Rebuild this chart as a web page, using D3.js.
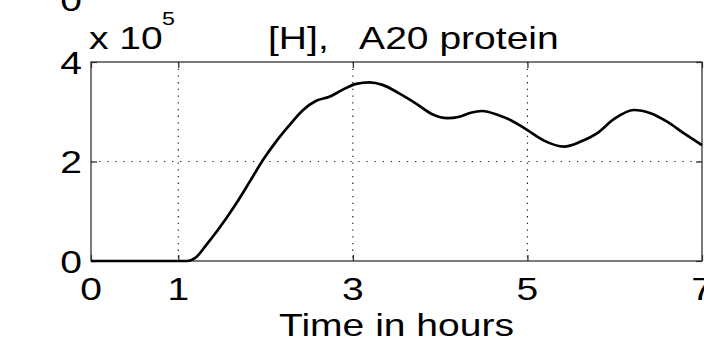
<!DOCTYPE html>
<html>
<head>
<meta charset="utf-8">
<script src="https://cdn.jsdelivr.net/npm/d3@7"></script>
<style>
  html, body { margin: 0; padding: 0; background: #fff; }
  svg { display: block; }
  text { font-family: "Liberation Sans", Arial, sans-serif; fill: #000; white-space: pre; }
</style>
</head>
<body>
<svg id="chart" width="704" height="343"></svg>
<script>
// ---- data (values in units of 10^5) ----
const timeHours = [0, 1.10, 1.20, 1.32, 1.55, 1.665, 1.817, 1.97, 2.12, 2.274, 2.43, 2.58, 2.73, 2.88, 3.04, 3.19, 3.34, 3.53, 3.72, 3.91, 4.08, 4.22, 4.35, 4.48, 4.67, 4.81, 5.0, 5.19, 5.42, 5.61, 5.80, 5.99, 6.22, 6.41, 6.60, 6.79, 7.0];
const a20Protein = [0, 0, 0.07, 0.32, 0.86, 1.16, 1.59, 2.03, 2.40, 2.73, 3.035, 3.22, 3.30, 3.44, 3.56, 3.59, 3.54, 3.37, 3.17, 2.95, 2.87, 2.90, 2.98, 3.015, 2.93, 2.83, 2.63, 2.42, 2.30, 2.40, 2.57, 2.85, 3.035, 2.97, 2.80, 2.57, 2.33];
const xTicks = [0, 1, 3, 5, 7];
const xGrid = [1, 3, 5];
const yTicks = [0, 2, 4];
const yGrid = [2];
const titleText = "[H],   A20 protein";
const xLabelText = "Time in hours";
const exponentText = "5";

// ---- layout ----
const mLeft = 91, mRight = 702, mTop = 62, mBottom = 261;
const FS = 32, SX = 1.22;

const svg = d3.select("#chart");
const x = d3.scaleLinear().domain([0, 7]).range([mLeft, mRight]);
const y = d3.scaleLinear().domain([0, 4]).range([mBottom, mTop]);

function label(txt, px, py, anchor, size) {
  svg.append("text")
    .attr("transform", `translate(${px},${py}) scale(${SX},1)`)
    .attr("text-anchor", anchor || "start")
    .style("font-size", (size || FS) + "px")
    .text(txt);
}

// grid
svg.append("g").selectAll("line").data(xGrid).join("line")
  .attr("x1", d => x(d)).attr("x2", d => x(d))
  .attr("y1", mTop).attr("y2", mBottom)
  .attr("stroke", "#222").attr("stroke-width", 1.2)
  .attr("stroke-dasharray", "1.3,5.4");
svg.append("g").selectAll("line").data(yGrid).join("line")
  .attr("x1", mLeft).attr("x2", mRight)
  .attr("y1", d => y(d)).attr("y2", d => y(d))
  .attr("stroke", "#222").attr("stroke-width", 1.2)
  .attr("stroke-dasharray", "1.3,6.8");

// axes (inward ticks on all sides)
const tk = 6;
svg.append("g").attr("transform", `translate(0,${mBottom})`)
  .call(d3.axisTop(x).tickValues(xTicks).tickSize(tk).tickFormat(""))
  .call(g => g.select(".domain").remove());
svg.append("g").attr("transform", `translate(0,${mTop})`)
  .call(d3.axisBottom(x).tickValues(xTicks).tickSize(tk).tickFormat(""))
  .call(g => g.select(".domain").remove());
svg.append("g").attr("transform", `translate(${mLeft},0)`)
  .call(d3.axisRight(y).tickValues(yTicks).tickSize(tk).tickFormat(""))
  .call(g => g.select(".domain").remove());
svg.append("g").attr("transform", `translate(${mRight},0)`)
  .call(d3.axisLeft(y).tickValues(yTicks).tickSize(tk).tickFormat(""))
  .call(g => g.select(".domain").remove());
svg.selectAll(".tick line").attr("stroke", "#222").attr("stroke-width", 1.2);

// frame
svg.append("rect").attr("x", mLeft).attr("y", mTop)
  .attr("width", mRight - mLeft).attr("height", mBottom - mTop)
  .attr("fill", "none").attr("stroke", "#333").attr("stroke-width", 1.3);

// curve
const line = d3.line().x((d, i) => x(timeHours[i])).y(d => y(d)).curve(d3.curveMonotoneX);
svg.append("path").datum(a20Protein)
  .attr("d", line)
  .attr("fill", "none").attr("stroke", "#000").attr("stroke-width", 2.7)
  .attr("stroke-linejoin", "round");

// tick labels
xTicks.forEach(t => label(String(t), x(t), 300, "middle"));
yTicks.forEach(t => label(String(t), 82, y(t) + 11.5, "end"));
// cut-off label of the panel above
label("0", 82, 10.5, "end");

// exponent
label("x 10", 89, 48.5, "start");
label(exponentText, 162, 25, "start", 19);

// title
label(titleText, 268, 48.5, "start");

// x label
label(xLabelText, (mLeft + mRight) / 2, 336, "middle");
</script>
</body>
</html>
